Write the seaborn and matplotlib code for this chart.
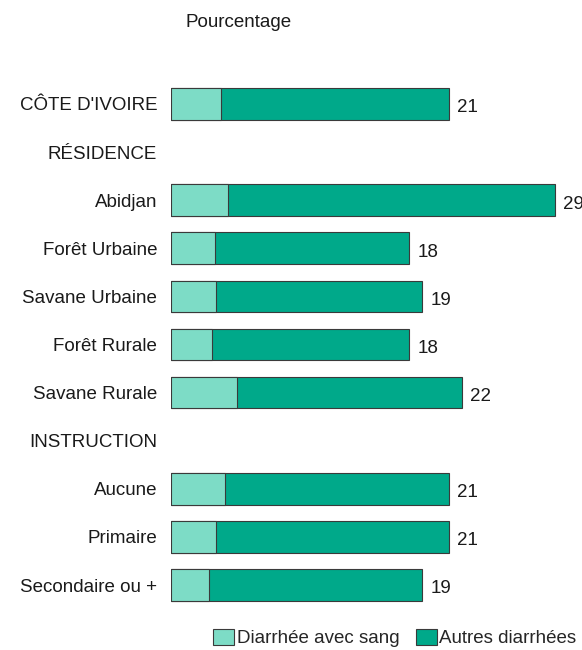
import matplotlib
matplotlib.use("Agg")
import matplotlib.pyplot as plt
import seaborn as sns
import pandas as pd
import numpy as np
from matplotlib.patches import Patch

# Categories (rows with None are section headers without bars)
categories = ["CÔTE D'IVOIRE", "RÉSIDENCE", "Abidjan", "Forêt Urbaine", "Savane Urbaine",
              "Forêt Rurale", "Savane Rurale", "INSTRUCTION", "Aucune", "Primaire",
              "Secondaire ou +"]
total = [21, None, 29, 18, 19, 18, 22, None, 21, 21, 19]
avec_sang = [3.8, None, 4.3, 3.3, 3.4, 3.1, 5.0, None, 4.1, 3.4, 2.9]

series_names = ["Diarrhée avec sang", "Autres diarrhées"]
light = "#7ddcc6"
dark = "#00a98a"

df = pd.DataFrame({"cat": categories,
                   "total": pd.array(total, dtype="Float64").astype(float),
                   "sang": pd.array(avec_sang, dtype="Float64").astype(float)})

sns.set_theme(style="white")
plt.rcParams["font.family"] = ["Liberation Sans Narrow", "Liberation Sans", "DejaVu Sans"]

fig = plt.figure(figsize=(5.82, 6.5), dpi=100)
ax = fig.add_axes([0.294, 0.063, 0.682, 0.814])

sns.barplot(data=df, x="total", y="cat", order=categories, orient="h",
            color=dark, saturation=1, width=0.66, edgecolor="#3a3a3a",
            linewidth=0.8, ax=ax)
sns.barplot(data=df, x="sang", y="cat", order=categories, orient="h",
            color=light, saturation=1, width=0.66, edgecolor="#3a3a3a",
            linewidth=0.8, ax=ax)

ax.set_xlim(0, 30)
ax.set_ylim(len(categories) - 0.5, -0.5)
ax.set_xlabel("")
ax.set_ylabel("")
ax.set_xticks([])
for s in ax.spines.values():
    s.set_visible(False)
ax.tick_params(axis="y", length=0, pad=10, labelsize=13.5, labelcolor="#1a1a1a")

# Value labels at bar ends
for i, v in enumerate(df["total"]):
    if not np.isnan(v):
        ax.text(v + 0.6, i + 0.08, f"{int(v)}", va="center", ha="left",
                fontsize=13.5, color="#1a1a1a", clip_on=False)

fig.text(0.318, 0.965, "Pourcentage", ha="left", va="center", fontsize=13.5,
         color="#1a1a1a")

handles = [Patch(facecolor=light, edgecolor="#3a3a3a", linewidth=0.8),
           Patch(facecolor=dark, edgecolor="#3a3a3a", linewidth=0.8)]
fig.legend(handles, series_names, loc="center right", bbox_to_anchor=(1.01, 0.018),
           ncol=2, frameon=False, fontsize=13.5, handlelength=1.1, handleheight=0.9,
           handletextpad=0.15, columnspacing=0.9, borderpad=0.1)

fig.savefig("out.png", dpi=100)
